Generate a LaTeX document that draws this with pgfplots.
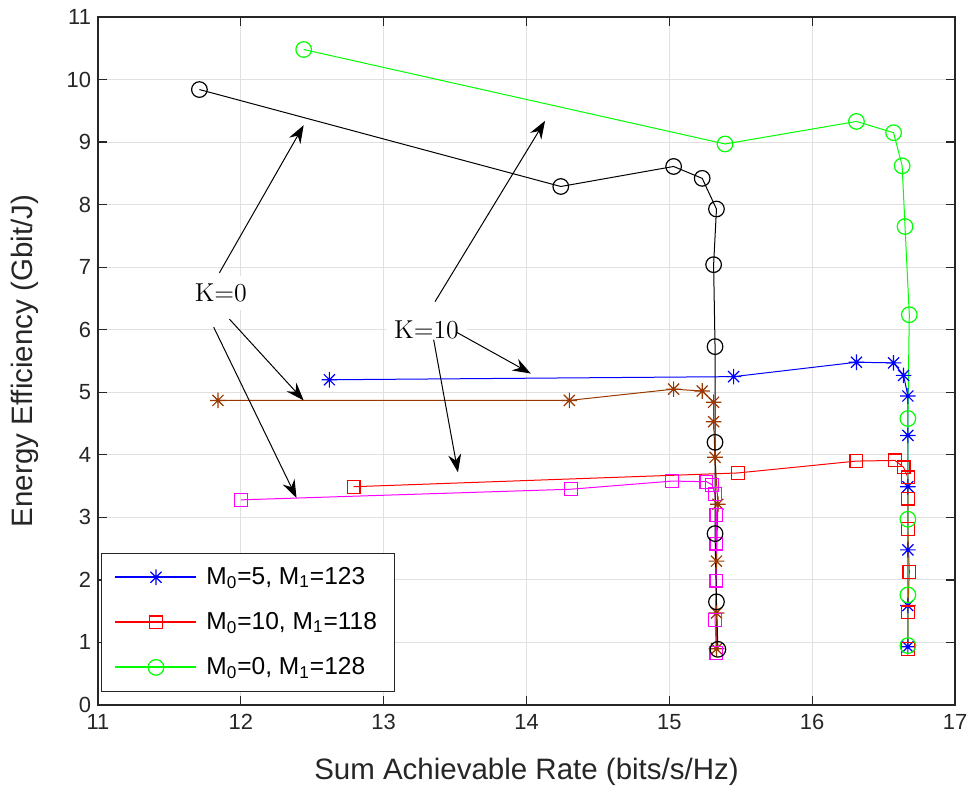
\documentclass[border=0pt]{standalone}
\usepackage{fontspec}
\usepackage{pgfplots}
\pgfplotsset{compat=1.18}
\usetikzlibrary{arrows.meta}
\newfontfamily\arial{Liberation Sans}
\definecolor{mbrown}{rgb}{0.6,0.22,0.0}
\definecolor{mblue}{rgb}{0,0,1}
\definecolor{mred}{rgb}{1,0,0}
\definecolor{mgreen}{rgb}{0,1,0}
\definecolor{mmag}{rgb}{1,0,1}
\definecolor{gridc}{rgb}{0.88,0.88,0.88}
\definecolor{axc}{rgb}{0.15,0.15,0.15}
\pgfdeclareplotmark{mstar}{%
 \pgfpathmoveto{\pgfqpoint{-\pgfplotmarksize}{0pt}}\pgfpathlineto{\pgfqpoint{\pgfplotmarksize}{0pt}}%
 \pgfpathmoveto{\pgfqpoint{0pt}{-\pgfplotmarksize}}\pgfpathlineto{\pgfqpoint{0pt}{\pgfplotmarksize}}%
 \pgfpathmoveto{\pgfqpoint{-0.707\pgfplotmarksize}{-0.707\pgfplotmarksize}}\pgfpathlineto{\pgfqpoint{0.707\pgfplotmarksize}{0.707\pgfplotmarksize}}%
 \pgfpathmoveto{\pgfqpoint{-0.707\pgfplotmarksize}{0.707\pgfplotmarksize}}\pgfpathlineto{\pgfqpoint{0.707\pgfplotmarksize}{-0.707\pgfplotmarksize}}%
 \pgfusepathqstroke}
\begin{document}
\begin{tikzpicture}
\begin{axis}[
  scale only axis,
  width=428.5bp, height=344bp,
  xmin=11, xmax=17, ymin=0, ymax=11,
  xtick={11,...,17}, ytick={0,...,11},
  grid=major,
  major grid style={gridc, line width=0.5bp},
  axis line style={axc, line width=0.6bp},
  tick style={axc, line width=0.6bp},
  major tick length=4.3bp,
  tick align=inside,
  tick pos=both,
  /pgf/number format/assume math mode=true,
  ticklabel style={font=\arial\fontsize{11}{13}\selectfont, text=axc},
  xticklabel style={yshift=-1bp},
  xlabel={Sum Achievable Rate (bits/s/Hz)},
  ylabel={Energy Efficiency (Gbit/J)},
  label style={font=\arial\fontsize{14.8}{17}\selectfont, text=axc},
  xlabel style={at={(axis description cs:0.5,-0.0974)}, anchor=center},
  ylabel style={at={(axis description cs:-0.0852,0.5)}, anchor=center},
  legend style={at={(axis description cs:0.0035,0.019)}, anchor=south west,
    line width=0.5bp, fill=white, draw=axc,
    font=\arial\fontsize{12.3}{14}\selectfont,
    inner xsep=7bp, inner ysep=5bp, row sep=8.5bp,
    /tikz/every odd column/.append style={column sep=3bp}},
  legend cell align=left,
  every axis plot/.append style={line width=0.5bp},
]
% blue: M0=5, M1=123
\addplot[color=mblue, mark=mstar, mark size=3.9bp, mark options={line width=0.6bp}, forget plot] coordinates {
(12.62,5.20) (15.45,5.25) (16.31,5.48) (16.57,5.47) (16.64,5.27) (16.67,4.94) (16.67,4.31) (16.67,3.49) (16.67,2.48) (16.67,1.59) (16.67,0.93)};
% red: M0=10, M1=118
\addplot[color=mred, mark=square, mark size=3.2bp, mark options={line width=0.6bp}, forget plot] coordinates {
(12.79,3.49) (15.48,3.71) (16.31,3.90) (16.58,3.91) (16.64,3.80) (16.67,3.64) (16.67,3.30) (16.67,2.81) (16.68,2.13) (16.67,1.48) (16.67,0.90)};
% green: M0=0, M1=128
\addplot[color=mgreen, mark=o, mark size=3.9bp, mark options={line width=0.6bp}, forget plot] coordinates {
(12.44,10.48) (15.39,8.97) (16.31,9.33) (16.57,9.15) (16.63,8.62) (16.65,7.65) (16.68,6.24) (16.67,4.58) (16.67,2.97) (16.67,1.76) (16.67,0.95)};
% brown
\addplot[color=mbrown, mark=mstar, mark size=3.9bp, mark options={line width=0.6bp}, forget plot] coordinates {
(11.84,4.87) (14.30,4.87) (15.03,5.05) (15.23,5.02) (15.31,4.84) (15.31,4.53) (15.32,3.96) (15.34,3.21) (15.33,2.30) (15.33,1.47) (15.33,0.90)};
% magenta
\addplot[color=mmag, mark=square, mark size=3.2bp, mark options={line width=0.6bp}, forget plot] coordinates {
(12.00,3.28) (14.31,3.45) (15.02,3.58) (15.26,3.57) (15.30,3.52) (15.32,3.37) (15.33,3.04) (15.33,2.58) (15.33,1.99) (15.32,1.36) (15.33,0.83)};
% black
\addplot[color=black, mark=o, mark size=3.9bp, mark options={line width=0.6bp}, forget plot] coordinates {
(11.71,9.84) (14.24,8.29) (15.03,8.61) (15.23,8.42) (15.33,7.93) (15.31,7.04) (15.32,5.73) (15.32,4.20) (15.32,2.74) (15.33,1.65) (15.34,0.89)};
% legend
\addlegendimage{legend image code/.code={\fill[mblue] (0bp,-0.3bp) rectangle (40bp,0.3bp); \draw[draw=mblue, line width=0.6bp] plot[mark=mstar, mark size=3.9bp] coordinates {(20bp,0bp)};}}
\addlegendentry{M\textsubscript{0}=5, M\textsubscript{1}=123}
\addlegendimage{legend image code/.code={\fill[mred] (0bp,-0.3bp) rectangle (40bp,0.3bp); \draw[draw=mred, line width=0.6bp] plot[mark=square, mark size=3.2bp] coordinates {(20bp,0bp)};}}
\addlegendentry{M\textsubscript{0}=10, M\textsubscript{1}=118}
\addlegendimage{legend image code/.code={\fill[mgreen] (0bp,-0.3bp) rectangle (40bp,0.3bp); \draw[draw=mgreen, line width=0.6bp] plot[mark=o, mark size=3.9bp] coordinates {(20bp,0bp)};}}
\addlegendentry{M\textsubscript{0}=0, M\textsubscript{1}=128}
% annotations
\node[fill=white, inner sep=4bp, font=\fontsize{13}{15}\selectfont] at (axis cs:11.86,6.59) {K=0};
\node[fill=white, inner sep=4bp, font=\fontsize{13}{15}\selectfont] at (axis cs:13.30,6.00) {K=10};
\begin{scope}[line width=0.5bp, -{Stealth[length=9bp, width=6.5bp, inset=3bp]}]
\draw (axis cs:11.85,6.91) -- (axis cs:12.44,9.27);
\draw (axis cs:11.92,6.17) -- (axis cs:12.44,4.87);
\draw (axis cs:11.81,6.04) -- (axis cs:12.39,3.31);
\draw (axis cs:13.36,6.45) -- (axis cs:14.13,9.34);
\draw (axis cs:13.51,5.96) -- (axis cs:14.03,5.30);
\draw (axis cs:13.35,5.84) -- (axis cs:13.52,3.72);
\end{scope}
\end{axis}
\pgfresetboundingbox
\useasboundingbox ([shift={(-49bp,-40.5bp)}]current axis.south west) rectangle ([shift={(10bp,8.5bp)}]current axis.north east);
\end{tikzpicture}
\end{document}
